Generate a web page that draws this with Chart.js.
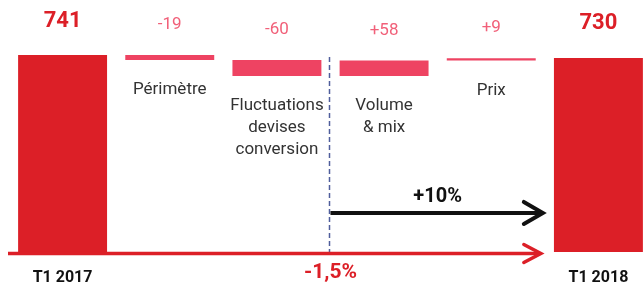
<!DOCTYPE html>
<html>
<head>
<meta charset="utf-8">
<script src="https://cdn.jsdelivr.net/npm/chart.js@4"></script>
<style>
  html, body { margin: 0; padding: 0; background: #fff; overflow: hidden; }
  #wrap { width: 662px; height: 290px; }
</style>
</head>
<body>
<div id="wrap"><canvas id="chart" width="662" height="290"></canvas></div>
<script>
// donnees
const categories = ['T1 2017', 'Périmètre', ['Fluctuations', 'devises', 'conversion'], ['Volume', '& mix'], 'Prix', 'T1 2018'];
const values = [741, -19, -60, 58, 9, 730];
const valueLabels = ['741', '-19', '-60', '+58', '+9', '730'];
const isTotal = [true, false, false, false, false, true];
const growthLabels = ['-1,5%', '+10%'];

const RED = '#dc1f27';
const PINK = '#ee4362';
const PINK_TEXT = '#f16079';

// cumul pour les barres flottantes
let level = 0;
const ranges = values.map((v, i) => {
    if (isTotal[i]) { level = v; return [0, v]; }
    const r = [level, level + v];
    level += v;
    return r;
});

function arrow(ctx, x1, x2, y, color, width, back, spread) {
    ctx.save();
    ctx.strokeStyle = color;
    ctx.lineWidth = width;
    ctx.lineCap = 'butt';
    ctx.beginPath();
    ctx.moveTo(x1, y);
    ctx.lineTo(x2 - 2, y);
    ctx.stroke();
    ctx.lineCap = 'round';
    ctx.lineJoin = 'miter';
    ctx.beginPath();
    ctx.moveTo(x2 - back, y - spread);
    ctx.lineTo(x2, y);
    ctx.lineTo(x2 - back, y + spread);
    ctx.stroke();
    ctx.restore();
}

const labelsPlugin = {
    id: 'labels',
    beforeDatasetsDraw(chart) {
        const ctx = chart.ctx;
        const x = chart.scales.x;
        const y = chart.scales.y;
        const base = y.getPixelForValue(0);
        // ligne pointillee
        const xd = x.getPixelForValue(2.5) - 1;
        ctx.save();
        ctx.strokeStyle = '#4f5e9c';
        ctx.lineWidth = 1.5;
        ctx.setLineDash([5, 3]);
        ctx.beginPath();
        ctx.moveTo(xd, y.getPixelForValue(741) + 2);
        ctx.lineTo(xd, base);
        ctx.stroke();
        ctx.restore();
    },
    afterDatasetsDraw(chart) {
        const ctx = chart.ctx;
        const meta = chart.getDatasetMeta(0);
        const x = chart.scales.x;
        const y = chart.scales.y;
        const base = y.getPixelForValue(0);

        ctx.save();
        ctx.textAlign = 'center';
        ctx.textBaseline = 'middle';
        meta.data.forEach((bar, i) => {
            const top = Math.min(bar.y, bar.base);
            const bottom = Math.max(bar.y, bar.base);
            if (isTotal[i]) {
                ctx.fillStyle = RED;
                ctx.font = 'bold 22px Roboto';
                ctx.fillText(valueLabels[i], bar.x, top - 34);
                ctx.fillStyle = '#111';
                ctx.font = 'bold 16px Roboto';
                ctx.fillText(categories[i], bar.x, 278);
            } else {
                ctx.fillStyle = PINK_TEXT;
                ctx.font = '17px Roboto';
                ctx.fillText(valueLabels[i], bar.x, top - 30);
                ctx.fillStyle = '#333';
                ctx.font = '17px Roboto';
                const lines = Array.isArray(categories[i]) ? categories[i] : [categories[i]];
                lines.forEach((t, k) => ctx.fillText(t, bar.x, bottom + 30 + k * 22));
            }
        });

        // fleche rouge de base
        arrow(ctx, x.getPixelForValue(-0.5) - 1, x.getPixelForValue(4.5) - 4, base + 1.5, RED, 3.5, 17, 9);
        // fleche noire
        const ya = y.getPixelForValue(147);
        arrow(ctx, x.getPixelForValue(2.5), x.getPixelForValue(4.5) - 2, ya, '#111', 4, 19, 11);

        ctx.fillStyle = RED;
        ctx.font = 'bold 21px Roboto';
        ctx.fillText(growthLabels[0], x.getPixelForValue(2.5), 273);
        ctx.fillStyle = '#111';
        ctx.font = 'bold 20px Roboto';
        ctx.fillText(growthLabels[1], (x.getPixelForValue(2.5) + x.getPixelForValue(4.5)) / 2, 197);
        ctx.restore();
    }
};

new Chart(document.getElementById('chart'), {
    type: 'bar',
    data: {
        labels: categories,
        datasets: [{
            data: ranges,
            backgroundColor: isTotal.map(t => t ? RED : PINK),
            borderWidth: 0,
            borderSkipped: false,
            categoryPercentage: 1,
            barPercentage: 0.83
        }]
    },
    options: {
        responsive: false,
        animation: false,
        layout: { padding: { left: 9, right: 10, top: 0, bottom: 38 } },
        plugins: { legend: { display: false }, tooltip: { enabled: false } },
        scales: {
            x: { display: false },
            y: { display: false, min: 0, max: 948 }
        }
    },
    plugins: [labelsPlugin]
});
</script>
</body>
</html>
